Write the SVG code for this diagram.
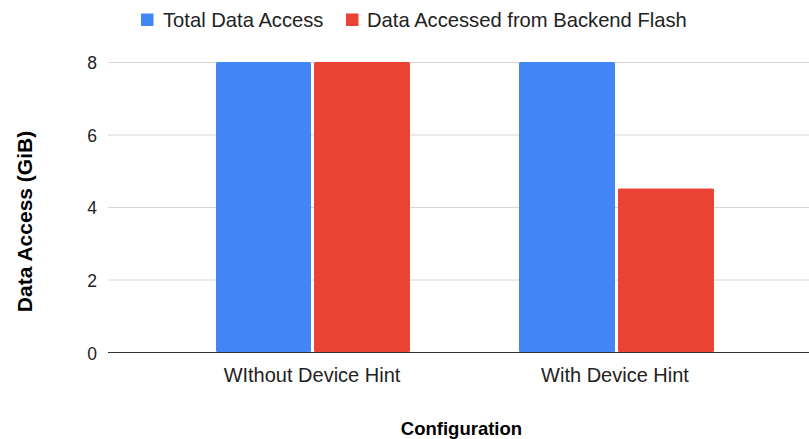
<svg xmlns="http://www.w3.org/2000/svg" width="809" height="439" viewBox="0 0 809 439">
  <style>
    .t { font-family: "Liberation Sans", Arial, sans-serif; fill: #222; }
    .tick { font-size: 17.5px; text-anchor: end; }
    .cat { font-size: 20px; text-anchor: middle; }
    .leg { font-size: 20.2px; }
    .title { font-size: 18.5px; font-weight: bold; text-anchor: middle; fill: #000; }
    .ytitle { font-size: 21px; }
    .grid { stroke: #d6d6d6; stroke-width: 1; }
    .base { stroke: #333; stroke-width: 1.2; }
    .blue { fill: #4285F4; }
    .red { fill: #EA4335; }
  </style>
  <rect width="809" height="439" fill="#fff"/>

  <!-- legend -->
  <g id="legend">
    <rect class="blue" x="141" y="13.5" width="12.5" height="12.5"/>
    <text class="t leg" x="163" y="27">Total Data Access</text>
    <rect class="red" x="346" y="13.5" width="12.5" height="12.5"/>
    <text class="t leg" x="367" y="27">Data Accessed from Backend Flash</text>
  </g>

  <!-- gridlines and axis -->
  <g id="axes">
    <line class="grid" x1="108" y1="62.5" x2="809" y2="62.5"/>
    <line class="grid" x1="108" y1="135" x2="809" y2="135"/>
    <line class="grid" x1="108" y1="207.5" x2="809" y2="207.5"/>
    <line class="grid" x1="108" y1="280" x2="809" y2="280"/>
    <text class="t tick" x="97" y="69">8</text>
    <text class="t tick" x="97" y="141.5">6</text>
    <text class="t tick" x="97" y="214">4</text>
    <text class="t tick" x="97" y="286.5">2</text>
    <text class="t tick" x="97" y="359.5">0</text>
  </g>

  <!-- bars -->
  <g id="bars">
    <rect class="blue" x="216" y="62" width="95" height="290" rx="1.5"/>
    <rect class="red" x="314" y="62" width="96" height="290" rx="1.5"/>
    <rect class="blue" x="519" y="62" width="96" height="290" rx="1.5"/>
    <rect class="red" x="618" y="188.5" width="96" height="163.5" rx="1.5"/>
  </g>

  <line class="base" x1="108" y1="352.5" x2="809" y2="352.5"/>

  <!-- category labels -->
  <g id="categories">
    <text class="t cat" x="312" y="382">WIthout Device Hint</text>
    <text class="t cat" x="615" y="382">With Device Hint</text>
  </g>

  <!-- axis titles -->
  <text class="t title" x="461.5" y="434.5">Configuration</text>
  <text class="t title ytitle" transform="translate(32,221.5) rotate(-90)">Data Access (GiB)</text>
</svg>
